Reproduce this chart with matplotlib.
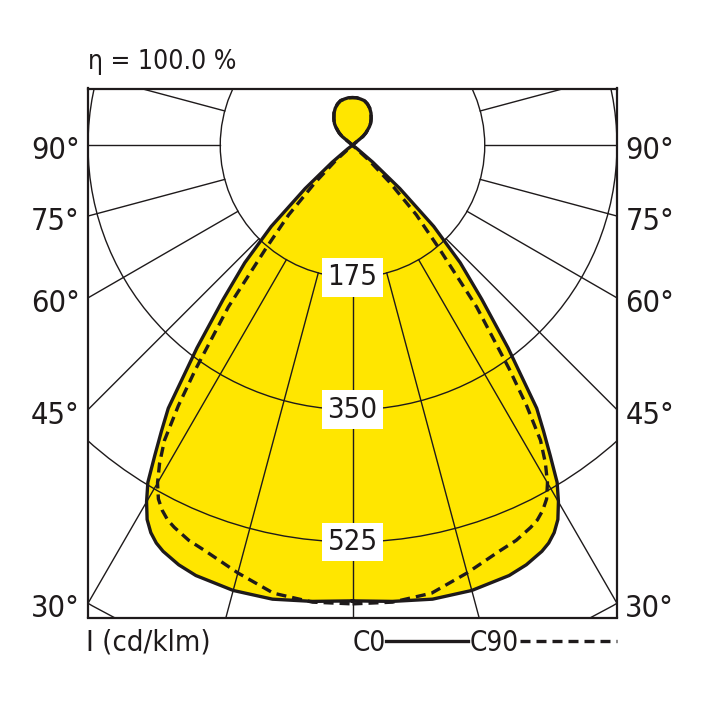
import numpy as np
import matplotlib

matplotlib.use("Agg")  # headless (no GUI)
import matplotlib.pyplot as plt
from matplotlib.patches import Circle, Polygon

# --- data (luminous intensity, cd/klm), gamma in degrees from nadir
gamma = [0, 5, 10, 15, 20, 22.5, 25, 26.25, 27.5, 28.75, 30, 31.25, 32.5,
         33.75, 35, 37.5, 40, 42.5, 45, 47.5, 50, 52.5, 55, 60, 90, 120,
         128, 130, 132.5, 135, 137.5, 140, 142.5, 145, 150, 155, 160, 165,
         170, 175, 180]
i_c0 = [603, 606, 610, 610, 606, 601, 593, 587, 578, 565, 545, 522, 487,
        455, 425, 338, 266, 211, 152, 85, 35, 8, 0, 0, 0, 0,
        0, 18, 24, 28, 33, 37, 40, 43, 49, 54, 58, 61,
        62, 63, 63]
i_c90 = [607, 607, 602, 586, 571, 566, 558, 553, 545, 534, 516, 492, 463,
         415, 362, 270, 178, 125, 70, 30, 0, 0, 0, 0, 0, 0,
         0, 18, 24, 28, 33, 37, 40, 43, 49, 54, 58, 61,
         62, 63, 63]

rings = [175, 350, 525, 700]
ring_labels = [175, 350, 525]
angle_labels = [90, 75, 60, 45, 30]
eta_text = "η = 100.0 %"
unit_text = "I (cd/klm)"

INK = "#1e1a1b"
YELLOW = "#ffe600"
plt.rcParams["font.family"] = ["Liberation Sans Narrow", "DejaVu Sans"]
plt.rcParams["font.stretch"] = "condensed"


def to_xy(g, vals, mirror=False):
    g = np.radians(np.asarray(g, dtype=float))
    r = np.asarray(vals, dtype=float)
    x = r * np.sin(g)
    y = -r * np.cos(g)
    if mirror:
        x = -x
    return x, y


def closed_curve(g, vals):
    xr, yr = to_xy(g, vals)
    xl, yl = to_xy(g, vals, mirror=True)
    return np.concatenate([xr, xl[::-1]]), np.concatenate([yr, yl[::-1]])


fig = plt.figure(figsize=(7.08, 7.08), dpi=100)
ax = fig.add_axes([88 / 708, 90 / 708, 529 / 708, 530 / 708])
ax.set_xlim(-350, 350)
ax.set_ylim(-625, 75)
ax.set_aspect("equal", adjustable="box")
ax.set_xticks([])
ax.set_yticks([])
for sp in ax.spines.values():
    sp.set_linewidth(1.6)
    sp.set_color(INK)
    sp.set_zorder(10)

# yellow fill of the C0 plane
x0, y0 = closed_curve(gamma, i_c0)
ax.add_patch(Polygon(np.column_stack([x0, y0]), closed=True,
                     facecolor=YELLOW, edgecolor="none", zorder=1))

# grid: rings and radial lines (outside the first ring)
for r in rings:
    ax.add_patch(Circle((0, 0), r, fill=False, lw=1.0, ec=INK, zorder=2))
for a in range(-180, 181, 15):
    t = np.radians(a)
    ax.plot([175 * np.sin(t), 1200 * np.sin(t)],
            [-175 * np.cos(t), -1200 * np.cos(t)],
            color=INK, lw=1.0, zorder=2)

# curves
ax.plot(x0, y0, color=INK, lw=2.4, zorder=4, solid_joinstyle="round")
x9, y9 = closed_curve(gamma, i_c90)
ax.plot(x9, y9, color=INK, lw=2.4, ls=(0, (3.0, 1.8)), zorder=4)

# ring value labels
for v in ring_labels:
    ax.text(0, -v, str(v), ha="center", va="center", fontsize=21,
            color=INK, zorder=6,
            bbox=dict(boxstyle="square,pad=0.18", fc="white", ec="none"))

# angle labels on both sides
for a in angle_labels:
    yv = -350 / np.tan(np.radians(a)) if a != 90 else 0.0
    ax.annotate(f"{a}°", (-350, yv), xytext=(-6, -4), textcoords="offset points",
                ha="right", va="center", fontsize=22, color=INK,
                annotation_clip=False)
    ax.annotate(f"{a}°", (350, yv), xytext=(6, -4), textcoords="offset points",
                ha="left", va="center", fontsize=22, color=INK,
                annotation_clip=False)

# texts around the box
fig.text(88 / 708, 1 - 62 / 708, eta_text, ha="left", va="center",
         fontsize=19, color=INK)
ly = 1 - 643 / 708
fig.text(86 / 708, ly, unit_text, ha="left", va="center", fontsize=21, color=INK)
fig.text(353 / 708, ly, "C0", ha="left", va="center", fontsize=20, color=INK)
fig.lines.append(plt.Line2D([386 / 708, 468 / 708], [ly + 0.003, ly + 0.003],
                            transform=fig.transFigure, color=INK, lw=2.4))
fig.text(470 / 708, ly, "C90", ha="left", va="center", fontsize=20, color=INK)
fig.lines.append(plt.Line2D([520 / 708, 617 / 708], [ly + 0.003, ly + 0.003],
                            transform=fig.transFigure, color=INK, lw=2.4,
                            ls=(0, (3.0, 1.8))))

fig.savefig("out.png", dpi=100)
plt.close(fig)
